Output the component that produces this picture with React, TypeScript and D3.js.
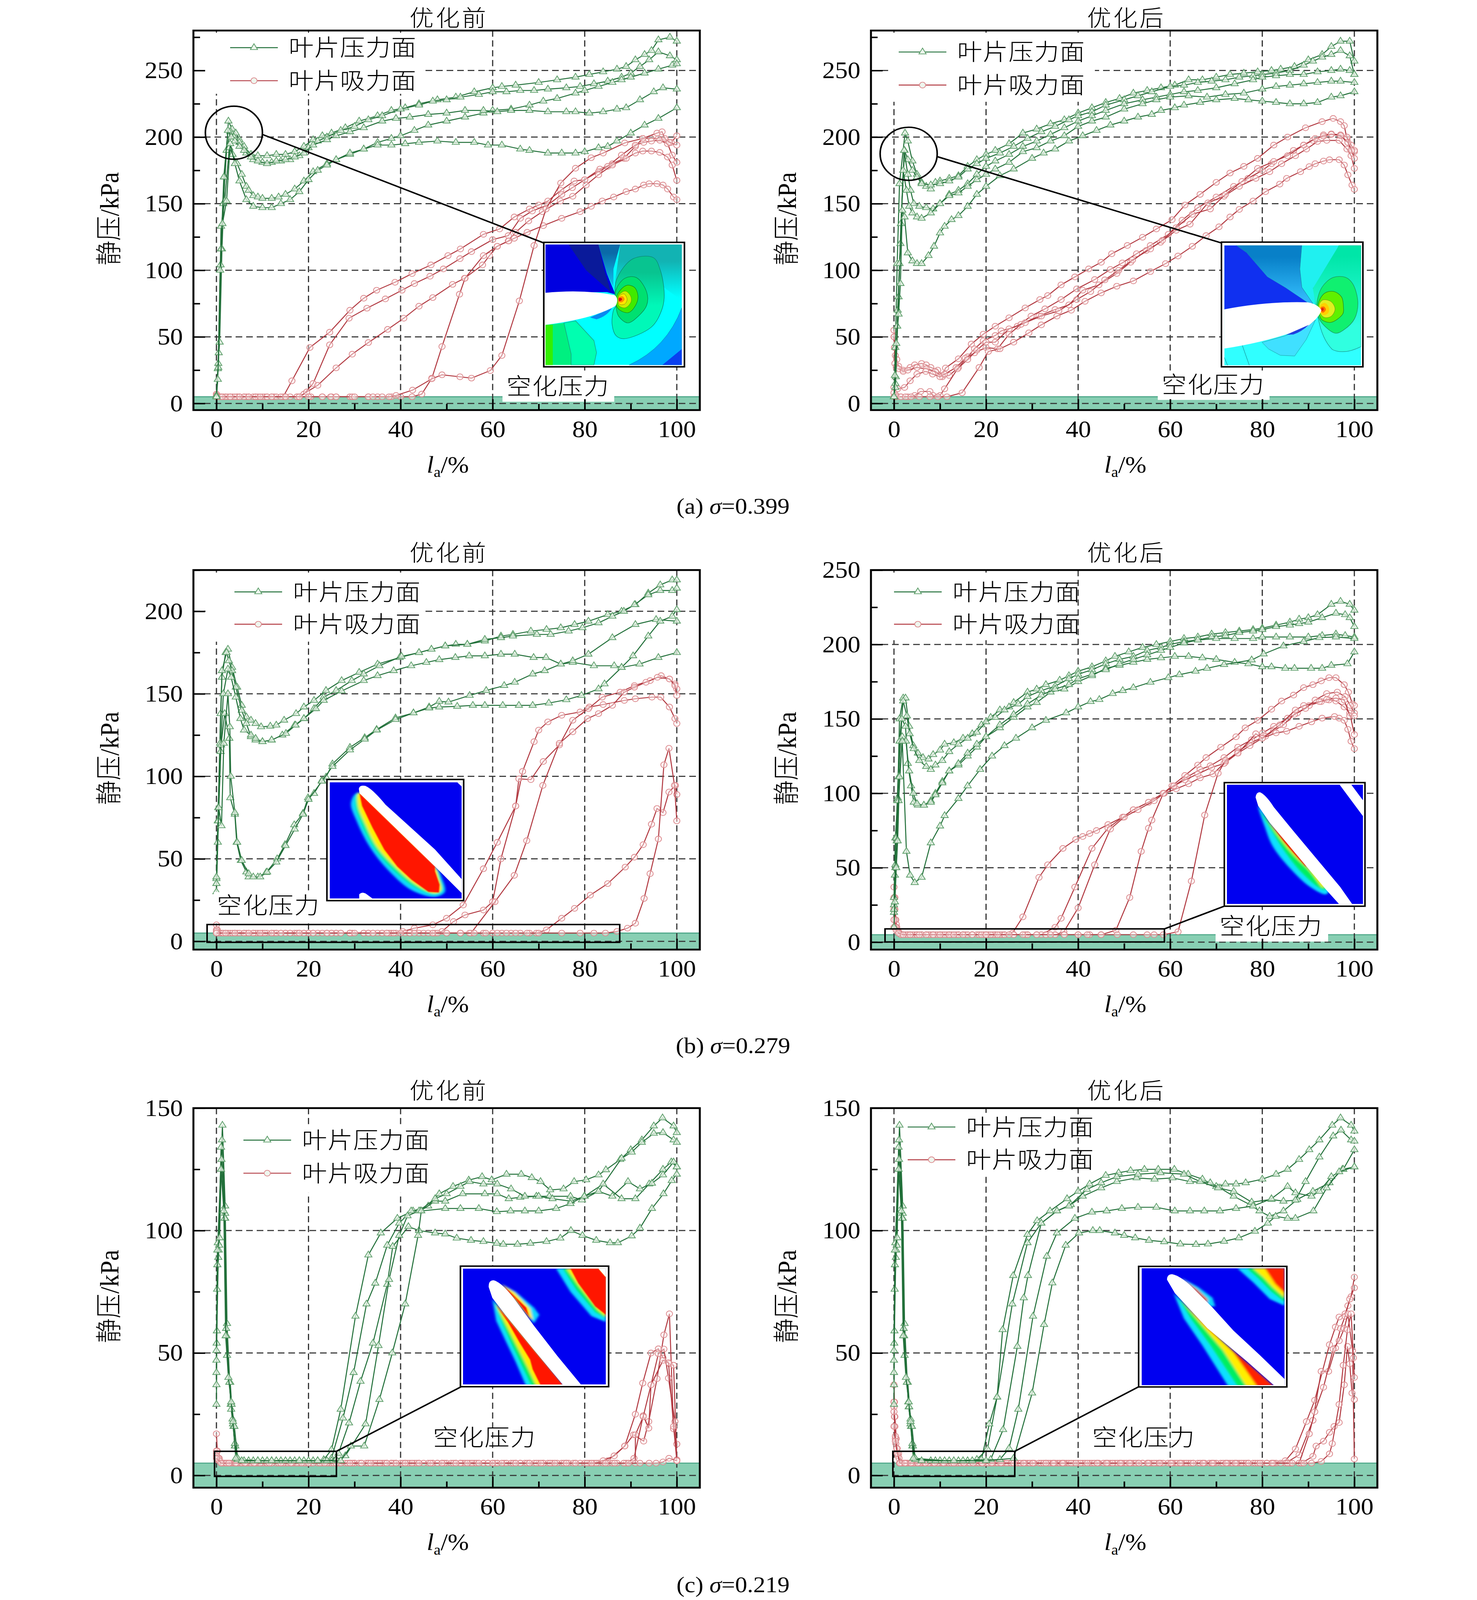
import React, { useEffect, useRef } from 'react';
import * as d3 from 'd3';

type Pt = [number, number];

// suction side points that sit on the cavitation pressure
const at5 = (xs: number[]): Pt[] => xs.map((x) => [x, 5] as Pt);

// ---- (a) sigma=0.399, before
const a1P1: Pt[] = [[0,6],[0.3,26],[0.7,46],[1.2,116],[1.8,170],[2.6,212],[3.4,206],[4.2,203],[5,198],[6,193],[7.5,187],[9,186],[11,186],[13,187],[15,187],[17,189],[19,193],[21,198],[23,201],[25,203],[28,207],[31,212],[35,216],[38,220],[41,222],[44,225],[48,228],[52,230],[56,234],[60,237],[62,238],[65,239],[70,241],[74,243],[78,245],[81,247],[84,249],[87,251],[89,253],[91,258],[93,262],[94.5,265],[96,273],[98.5,275],[100,272]];
const a1P2: Pt[] = [[0,5],[0.4,30],[0.9,104],[1.5,150],[2.2,190],[3,204],[3.8,200],[5,196],[6.5,188],[8,183],[10,181],[12,181],[14,182],[16,183],[18,186],[20,192],[22,197],[24,200],[27,205],[30,208],[33,213],[36,216],[40,221],[44,224],[47,227],[50,228],[53,230],[57,232],[60,234],[63,234],[66,235],[69,235],[72,236],[76,237],[79,238],[82,240],[85,242],[88,245],[90,248],[92,253],[94,258],[96,264],[98.5,261],[100,258]];
const a1P3: Pt[] = [[0,5],[0.5,38],[1,133],[1.8,152],[2.8,192],[3.5,187],[4.5,180],[5.5,172],[6.5,163],[7,160],[8,156],[9,155],[10,154],[12,154],[13.5,155],[15,157],[17,161],[19,167],[21,174],[24,180],[26,183],[29,187],[32,191],[35,196],[38,199],[40,201],[43,205],[46,209],[50,212],[54,215],[58,218],[60,220],[64,221],[68,224],[71,227],[74,229],[78,233],[80,235],[83,238],[86,241],[88,243],[90,245],[93,248],[96,251],[99,254],[100,255]];
const a1P4: Pt[] = [[0,5],[0.4,27],[1,116],[1.6,170],[2.5,205],[3.2,200],[4,197],[5,193],[6,190],[7.5,185],[9,182],[11,180],[13,182],[15,183],[17,185],[19,188],[21,194],[24,198],[26,201],[29,204],[32,207],[36,212],[39,214],[42,215],[46,217],[50,218],[54,220],[58,220],[61,219],[64,220],[68,220],[72,219],[76,219],[78,219],[81,218],[84,219],[87,221],[89,222],[92,228],[95,234],[97,237],[100,236]];
const a1P5: Pt[] = [[0,5],[0.3,18],[0.8,100],[1.3,135],[2.2,152],[3,195],[4,180],[5,167],[6.5,153],[8,148],[10,147],[12,147],[14,150],[16,153],[18,159],[20,168],[22,175],[24,179],[26,183],[29,188],[32,191],[35,194],[38,194],[41,195],[44,196],[48,197],[52,196],[56,196],[59,194],[62,194],[66,191],[68,190],[72,188],[75,188],[78,188],[80,189],[83,192],[85,193],[87,197],[90,203],[93,209],[96,214],[100,222]];
const a1S1: Pt[] = [[0,7],...at5([0.5,2,3.5,5,7,8.5,10.5,12.5,14.5]),[16.4,17],[20.3,42],[24.6,53.5],[29,70],[32,79],[34.8,85],[38.8,91],[42.5,97.5],[46.6,104],[50.3,111],[53,116],[58,127],[61.5,131],[64.7,140],[68,146],[70,149],[72,152],[74.8,160],[77.7,167],[80,168],[83.3,176],[86,180],[88.5,184],[91,193],[92.6,199],[94.4,199],[96,199],[97.6,197.6],[98.8,196],[100,201]];
const a1S2: Pt[] = [[0,6],...at5([1,2.5,4.5,6,8,10,12,15,17.5]),[19,7],[21,15],[24.6,44],[28.8,64],[32.7,71.5],[36.7,78.5],[40.3,85],[43,90],[46.4,95.5],[49.3,101],[52.9,108.7],[55.4,114],[60,123],[63.4,126],[66,139],[68.6,144.5],[72,149],[75,157],[77.3,162],[80,168],[83,174],[85,178],[88,186.5],[91,194],[92.8,196],[94.5,197],[96.3,197.6],[98,195],[99,186.5],[100,181]];
const a1S3: Pt[] = [[0,5],...at5([1.5,3,4.5,6.5,9,11,13,16,18]),[19.6,8.6],[22,13.6],[26,26.7],[29.5,37],[33,45.7],[37.2,55.6],[40.7,64],[44,73],[47,79.5],[51.3,89.4],[53.9,94],[57.8,104],[59.3,111],[61,118],[63.4,122],[65,128.5],[67.8,137],[70.8,144],[74.7,152],[77.4,155.6],[80.3,164],[83,171.7],[86,179],[89,184],[91,188],[92.6,189.5],[94.5,189.5],[96.3,188.5],[98,185],[99,179],[100,167.5]];
const a1S4: Pt[] = [[0,6],...at5([0.8,2,4,6,8.5,11,14,17.5,20.5,23,25,26,29,33,35,38,40,42.5]),[44.6,7],[46.8,19],[49,42.7],[52.8,82],[54,94],[58,111],[61,118],[63.5,122],[64.7,124],[67.5,128.5],[71,133.5],[75,139],[79,144],[81.4,148],[83.8,152],[86.3,155],[89,159],[91,161],[92.8,164],[94,165],[95.7,165],[97,164],[98,161],[99.3,155],[100,153]];
const a1S5: Pt[] = [[0,5],...at5([1.2,3,5,7,9.5,12,15,18,20,23,24.8,26,29.5,30,33,34,36,37.5]),[39,6],[42.6,10],[46.8,18.5],[49,21.5],[52.9,20],[55.4,19],[59.5,24.7],[62,36],[65.8,77],[69,118.6],[71.6,146],[74.8,165.5],[78,176.6],[81.4,184.5],[84,188],[88.7,195.6],[92.6,199],[95.7,203],[96.8,204],[97.4,199],[98.4,196],[100,194]];

// ---- (a) sigma=0.399, after
const a2P1: Pt[] = [[0,5],[0.3,42],[0.7,105],[1.2,165],[2.4,203],[3,197],[4,182],[5,172],[6,166],[7,163],[8,161],[9,166],[10,167],[12,169],[14,171],[16,178],[18,183],[20,187],[22,190],[25,195],[28,203],[31,206],[34,210],[37,213],[40,218],[43,222],[46,226],[49,229],[52,233],[55,235],[58,237],[61,239],[64,243],[67,243],[70,245],[73,247],[76,248],[79,249],[82,250],[84,251],[87,253],[90,258],[93,262],[95,268],[97,272],[99,272],[100,257]];
const a2P2: Pt[] = [[0,5],[0.4,20],[1,80],[1.5,135],[2.3,190],[3,183],[4,175],[5,170],[6,165],[8,164],[10,165],[12,167],[14,170],[16,176],[18,180],[20,184],[23,188],[26,193],[29,199],[32,204],[35,208],[38,213],[40,216],[43,219],[46,224],[50,228],[53,231],[56,234],[60,238],[63,239],[66,241],[69,242],[72,243],[75,245],[78,246],[80,247],[83,248],[86,250],[89,254],[91,257],[93,260],[95,262],[97,265],[99,261],[100,247]];
const a2P3: Pt[] = [[0,5],[0.3,15],[0.8,70],[1.4,120],[2.2,190],[3,172],[3.6,160],[4.3,150],[5.5,148],[7,147],[8.5,146],[10,150],[12,157],[14,160],[16,165],[18,172],[20,178],[22,182],[25,187],[28,193],[31,197],[34,202],[37,207],[40,212],[43,216],[46,220],[50,225],[54,228],[57,230],[60,232],[63,234],[66,235],[70,237],[74,240],[78,243],[80,245],[83,246],[86,247],[89,247],[92,249],[95,250],[97,251],[99,250],[100,247]];
const a2P4: Pt[] = [[0,5],[0.3,12],[0.7,58],[1.2,105],[2,175],[2.7,160],[3.3,148],[4,143],[5,140],[6,139],[8,143],[10,150],[12,156],[14,158],[16,163],[18,168],[20,172],[22,176],[25,181],[28,189],[31,192],[34,197],[37,201],[40,208],[43,212],[46,215],[50,221],[54,225],[57,228],[60,230],[64,231],[68,230],[72,232],[76,233],[80,236],[83,238],[86,239],[89,240],[92,241],[95,242],[97,242],[100,241]];
const a2P5: Pt[] = [[0,5],[0.2,21],[0.5,45],[1,67],[1.4,90],[1.8,145],[2.3,140],[3,113],[4,107],[5,105],[6,105],[7.5,111],[8.7,118],[10,128],[11,133],[12.5,138],[14,141],[16,148],[18,157],[20,163],[23,171],[26,176],[30,184],[32.5,188],[35,191],[38,197],[41,201],[44,205],[47,209],[50,212],[53,215],[56,217],[58,220],[61,222],[63,224],[66.5,226],[70,228],[74,229],[77,228],[80,227],[83,226],[86,225],[89,225],[92,226],[95,230],[97,231],[100,234]];
const a2S1: Pt[] = [[0,55],[0.1,50],[0.2,42],[0.3,36],[0.6,33],[1,28],[2,25],[3.5,27],[4.5,29],[6,30],[7,29],[8,27],[9.5,25],[10.5,21],[11.2,26.6],[14,33.5],[16.8,44.6],[19.4,52],[22,58],[25,64.3],[28.5,71.7],[31.7,78],[33.4,81],[36.3,89],[39.3,95],[42.3,101],[45,106],[47.3,112.4],[50.7,118.6],[54,124.8],[57,131],[60.4,138],[63.2,149],[66.5,157],[70,166],[73,173],[76,178],[79,184],[82.5,194],[85.5,200],[89.4,207],[93,211.6],[95.4,214],[97,211.6],[97.8,208.6],[98.4,198.7],[99.3,191],[100,189]];
const a2S2: Pt[] = [[0,50],[0.1,42],[0.2,30],[0.5,27],[1,26],[2,24],[3,25],[5,27],[7,26],[9,24],[10.5,20],[12,21],[14,27],[16,35],[17.5,41],[19.4,47],[22,51],[23.3,54.5],[26.8,58],[29.8,65.6],[32.8,71],[36.3,78],[39.7,86],[43.6,93],[47,100.6],[49.6,105.5],[52.7,112.4],[55.7,118.6],[59.6,127],[62.6,137.6],[66,147],[70,155],[73.8,163],[76.9,169],[80,175],[82,180],[86.8,190],[89,194],[91,197.5],[93.3,201.7],[95,202.4],[97,201.7],[98.4,200],[99.3,194],[100,190]];
const a2S3: Pt[] = [[0,12],[0.8,11],[2.3,12],[3.5,17],[5,22],[6.9,24],[8.4,22],[10,20],[11,22],[13.5,27],[15.5,34],[17.5,38],[20,42],[22.5,41],[25,52],[27.6,59.4],[31.5,65.6],[35,70.5],[38,74],[41,85],[44.5,89],[48.4,97.6],[51.4,106],[54.8,114.9],[57.9,121],[61.3,130],[64.3,134.6],[68.2,150.6],[71.7,155.6],[75,163],[78.6,169],[81.6,174],[84.2,180],[87.2,186],[89.6,191],[92,196.7],[94,197.5],[96.7,197.5],[98.4,191],[99.3,186],[100,176.5]];
const a2S4: Pt[] = [[0,8],[0.5,6],[1.5,5],[3,5],[4.5,6],[5.8,9],[7.8,9],[8.5,6],[10,6],[11,11],[13.8,26],[16,33],[18,40],[20,46],[22,46],[25,56],[28.5,60.6],[32,65.6],[35.8,69.5],[39.7,78],[42.7,84],[45.8,92.8],[48.8,100],[51.8,107.7],[55.7,116],[58.3,122.5],[61.3,132],[64.8,142],[68.7,146],[72,157],[75.6,166.7],[79,176.5],[82.5,181.7],[85.5,186],[89,194],[91.5,199],[93.3,200.7],[95,202],[97,201],[98.6,196],[99.4,190],[100,184]];
const a2S5: Pt[] = [[0,5],...at5([0.5,1.5,2.5,3.7,5.5,7.8,9.5,11.5]),[14.8,8],[18.5,27],[20.5,39],[23,41],[26,46],[29.3,53],[32,59],[35.4,65.6],[38.5,70],[41.5,76.7],[45,83],[48.4,88],[52,92],[55.7,99],[59,105],[61.7,110.7],[64.8,118],[67.8,126],[70.6,132.6],[73,140],[75,145.7],[78,152],[80.7,159],[83.8,164.7],[85.3,169],[88.3,174],[90.2,177.8],[91.5,180],[93.3,182],[94.6,183],[96.7,183],[97.8,179],[98.6,171.6],[99.5,164],[100,160.8]];

// ---- (b) sigma=0.279, before
const b1P1: Pt[] = [[0,38],[0.4,81],[0.9,138],[1.2,160],[2,175],[2.5,177],[3.4,166],[4.5,154],[5.5,143],[6.5,136],[7.5,134],[8.5,132],[9.7,130],[11.7,130.4],[13,131],[14.7,134],[17.3,138],[19,142],[21.2,146],[23.8,152],[27.2,158],[31,163],[35,168],[39.8,172],[44,175],[46.7,177],[49.7,179],[52,180],[54.5,180],[58.3,182],[61.8,185],[64.4,186],[68.3,188],[71.7,189],[74.8,190],[77.8,192],[80.8,194],[85,198],[88,200],[91,204],[93.8,211],[96.4,216],[99,219],[100,219]];
const b1P2: Pt[] = [[0,35],[0.3,73],[0.8,120],[1.2,164],[2.2,175],[2.7,170],[3.4,164],[4.2,154],[5.5,140],[6.5,132],[7.5,124],[8.5,122],[10,121],[12,122],[14.3,125],[17,131],[19,135],[21.2,141],[23.3,148],[26,152],[29.4,158],[32,162],[35.4,167],[40.2,172.7],[44,175],[46.7,177],[49.7,179],[54.5,180],[58.3,183],[61.8,184],[64.4,185],[69.6,186],[72.6,186],[76.5,188],[79.5,190],[83,193],[86,197],[88.5,200],[90.8,204],[93.8,210],[96.4,212.6],[99,212.6],[100,214]];
const b1P3: Pt[] = [[0,30],[0.3,60],[0.9,115],[1.5,150],[2.5,165],[3.2,160],[4.2,148],[5.2,135],[6,128],[7.5,125],[8.5,123],[10,121],[12,122],[15.1,126],[17.2,131],[19,135],[21.6,141],[23.3,146],[27.2,151.7],[32,158],[35,161],[38.5,164],[42.3,167],[45.6,169],[48.4,170.7],[51.9,172],[54.9,173],[58.3,173],[61.8,174],[64.8,174],[68.9,172],[71.6,172],[74.8,168],[77.4,169],[82,167],[86.4,167],[88,166],[91.9,168],[96,172],[100,175]];
const b1P4: Pt[] = [[0,35],[0.4,73],[1,119],[1.8,138],[2.8,123],[3,87],[4,77],[4.4,60],[5.3,49],[6.5,42],[7,39],[9,39],[10.8,41.7],[13.2,50],[14.9,58.6],[16.9,70.6],[18.8,77.6],[19.9,87],[21.2,89.6],[22.9,97.5],[23.8,99.5],[25.2,107.5],[29,117.5],[32.2,123.4],[34.8,128.4],[38.9,135.4],[42.8,138.4],[46.2,142],[48.4,145.4],[50.4,145],[55,149],[58.6,152],[62.5,155],[64.8,157],[68.7,162],[71.3,164],[74.8,168],[77.4,170],[80.8,174],[86,184],[91,192],[95.5,195],[100,194]];
const b1P5: Pt[] = [[0,39],[0.5,81],[1.1,70],[1.6,120],[2.5,150],[2.9,130],[3.1,100],[4,78],[4.5,60],[5.5,49],[7,41],[8,39],[9.5,39],[11,42],[13,48],[15,58],[17,68],[18.8,77],[20,86],[22.9,97],[25.2,106],[29,116],[32.2,122.5],[34.8,128],[38.9,134.4],[42.8,138.4],[46.2,141.4],[48.4,142],[52.3,142.4],[55.7,143],[58.3,143],[62.2,143],[65.7,143],[68.7,143],[72.2,144.4],[76,146.4],[79.3,149],[83,153],[84.3,156],[88,166],[90.5,173],[93.8,185],[96.4,194],[99,197],[100,201]];
const b1S1: Pt[] = [[0,10],[0.2,7],...at5([0.6,2,4,6,8,10,12,14,16,18,20,22,24,26,29,33,36,38]),[40.5,6],[43,8],[47,10],[50,14],[53.6,22],[58,44],[61,60],[65,82],[66.5,103],[69,121],[70,128],[72,133],[75,137],[79,139],[81,142],[84,143.5],[88.6,146],[91,147],[94.6,148],[96.5,148],[98.4,142],[99.6,135],[100,132]];
const b1S2: Pt[] = [[0,7],...at5([0.8,2.5,4.5,7,9,11,13,15,17,19,21,25,27,29.5,32,35,37.5,41,44,47]),[49,6],[51.5,12],[54,16],[58,19],[60,24],[61.8,50],[65,82],[65.7,98.5],[68.3,98],[71,109],[74.5,119],[77.4,134],[80.8,141],[83.8,148],[87.7,151],[90.8,155],[94.2,158],[96.6,161],[98.4,159],[99.6,156],[100,153]];
const b1S3: Pt[] = [[0,6],...at5([1.2,3,5,6.5,8.5,10,12.5,15,17.5,20,24,26,29,32,34,37,39,42,45,47.5,50,53,55.3]),[60.5,24],[64.7,40],[67.4,61],[70.9,94.5],[74.5,120],[77.4,127],[80.6,135],[83,138],[86,143],[88.6,151],[90.8,154],[93.3,157],[95.8,160],[98.4,159],[99.6,155],[100,149]];
const b1S4: Pt[] = [[0,5],...at5([1.5,3.5,6,8,10.5,13,16,19,23,25,29,33,36,38.5,42,46,48,53,55,58,60,62,64,66,68,69.5]),[71.7,7],[75,14],[77.8,20],[81.2,28],[85,35],[88.8,45],[90.8,51],[92.7,58.6],[94.5,71],[95.7,80.5],[97,78],[98.3,90.5],[99.7,94.5],[100,89]];
const b1S5: Pt[] = [[0,5],...at5([2,4,7,9.5,12,14,18,21,24,27,30,34,37,40,43,47,50,53,56,58.5,61,63,65,67.5,70,75,79,82,84.5]),[87,6],[89.3,8],[91,11],[92.9,26],[94.2,41],[96,62],[97.2,107],[98.3,117],[99.5,94.5],[100,73]];

// ---- (b) sigma=0.279, after
const b2P1: Pt[] = [[0,30],[0.3,70],[0.8,97],[1.2,150],[2,164],[2.5,164],[3.3,145],[4.2,132],[5.2,127],[6.3,124],[7.5,123],[8.5,126],[10,129],[11,133],[13,134],[15,137],[17,140],[19,146],[21,151],[23,156],[25,158],[26,161],[29,168],[31,170],[33,173],[36,176],[38,179],[40,182],[43,185],[46,189],[48,192],[51,195],[54,198],[57,200],[60,202],[63,204],[66,205],[69,207],[72,208],[75,209],[78,210],[80,211],[83,213],[86,215],[88,217],[90,218],[92,220],[95,227],[97,229],[99,227],[100,223]];
const b2P2: Pt[] = [[0,25],[0.3,52],[0.7,95],[1.2,135],[2,162],[2.8,152],[3.4,140],[4.3,130],[5.5,122],[7,118],[8,116],[9,119],[10.5,122],[12,128],[14,133],[16,137],[18,141],[20,148],[22,151],[24,156],[27,160],[29,165],[32,169],[35,172],[38,177],[40,180],[43,183],[46,187],[49,190],[52,192],[55,196],[58,198],[60,200],[63,202],[66,203],[69,205],[72,206],[75,208],[78,209],[80,210],[83,212],[86,213],[88,214],[90,215],[93,218],[96,221],[98,220],[99,218],[100,212]];
const b2P3: Pt[] = [[0,20],[0.2,45],[0.5,70],[1,111],[1.7,150],[2.5,145],[3,120],[3.7,105],[4.3,94],[5.2,92],[6.5,92],[8,95],[9,100],[10.5,108],[12,115],[14,119],[16,125],[18,131],[20,138],[23,144],[26,151],[29,158],[31,161],[34,168],[37,170],[40,175],[43,179],[46,184],[49,186],[52,188],[55,190],[58,191],[61,192],[64,192],[67,191],[70,190],[74,188],[77,187],[80,185],[82,185],[85,184],[87,184],[90.6,184],[93,184],[95,186],[98.5,187],[100,195]];
const b2P4: Pt[] = [[0,22],[0.3,50],[0.6,68],[1,95],[1.8,138],[2.6,135],[3.3,115],[4.2,100],[5,93],[6.5,92],[8,94],[9,99],[10.5,107],[12,115],[14,120],[16,127],[18,133],[20,138],[23,146],[26,153],[29,160],[32,166],[35,170],[38,173],[40,177],[43,180],[46,183],[49,187],[52,190],[55,193],[58,196],[60,198],[63,201],[66,203],[70,204],[74,204],[78,204],[80,205],[83,205],[86,205],[90,205],[93,206],[96,207],[98,206],[100,205]];
const b2P5: Pt[] = [[0,10],[0.2,27],[0.5,50],[0.8,68],[1.2,111],[1.8,135],[2.7,61],[3.5,45],[4.5,40],[6,43.5],[8,66.7],[10,78],[11,85],[14,96.5],[16,105],[18.7,116],[21.3,125],[24,132],[26.5,137],[30,144],[33,149],[37.4,154],[40,158],[42.7,161.6],[44.6,163],[47.5,167],[49.7,169],[52,171],[55.7,174.6],[59.6,177.7],[62,179.7],[65.5,182],[68,184],[71.7,186.5],[77.7,189.6],[80.3,193.6],[84.6,199],[89,202],[92.4,204.6],[96,205],[100,204]];
const b2S1: Pt[] = [[0,37],[0.2,30],[0.4,15],[0.8,8],...at5([1.5,3,4.5,6,8,10,11.5,14,17,19.5,22,24]),[25.7,6],[28,17],[31.5,43.5],[33.4,52],[36.7,63],[39.5,69],[41,71],[42.5,73],[44,75],[46.5,79],[49.7,84],[52,89],[55.3,94],[58.5,100],[60.4,105],[63.2,112],[66,119],[67.8,124],[71,131],[74.3,138],[76.3,144],[79,149],[82,156.5],[84.2,162],[86.8,166],[89,171],[91,173],[92.8,175.5],[94.5,177.7],[96,177.7],[97.8,173],[98.7,168],[99.6,160],[100,159]];
const b2S2: Pt[] = [[0,30],[0.2,22],[0.5,12],[1,7],...at5([2,3.5,5,7,9,12,13.5,15,18,20.5,22,23.5,26,29,32]),[35,10],[36.3,16],[39.3,37],[43,63],[46.5,76.6],[49.7,84],[52,89],[55.3,94],[58.5,100],[60.8,105],[63.7,111],[66.5,116],[68.7,118.5],[71.7,124],[74.7,131],[77.7,136],[80.1,140.6],[82.5,145],[85.5,150.5],[87.6,154],[90.2,159],[92.8,161.6],[94.5,162.7],[96,162],[97.8,158],[99,154],[100,139.5]];
const b2S3: Pt[] = [[0,22],[0.3,15],[0.6,10],[1.2,6],...at5([2.5,4,6,8.5,10.5,12.5,15.5,17,20,21.5,23,26,28.5,31,33,35]),[36.9,7],[40,23],[43.6,52],[47,76],[50,84],[53,89],[56.5,95],[58.7,100],[61.3,103],[64,106.4],[66.5,110.4],[69.3,113],[72,121],[74.7,128],[77.5,134],[80.7,138.4],[82.5,142],[84.6,146],[87,153],[89.4,157],[91.5,162.7],[94,167],[96.3,168],[98,165],[99.1,159],[100,154]];
const b2S4: Pt[] = [[0,15],[0.4,10],[0.8,7],...at5([1.5,3,5,7.5,9.5,11,14,16,18.5,21,24,26,29,33,35,37,40,42.5,45]),[48.2,8],[51.2,30],[53.7,61],[55.3,76.6],[56,82],[58.5,100],[60.8,105],[63.2,109],[66,113],[69,117.4],[71.7,120],[74.7,127],[77.3,132],[80,137],[83,140.6],[85.3,141.7],[88,145],[90.7,148],[93,150.5],[95.7,151.6],[96.7,150.5],[97.8,149],[98.6,143],[99.3,135],[100,130]];
const b2S5: Pt[] = [[0,10],[0.5,8],[1,6],...at5([2,3.5,5.5,7,8.5,10,12,13,15,17,19,20,22.5,25,28,31,34,37,40,42,45,48.5,52,55,56.5,58.5]),[61.7,7],[64.6,41],[67.5,85.4],[70.4,113.5],[72,122],[74.7,127],[78.6,140],[80,137],[83.8,146],[87.2,156],[89,159],[92.4,161.6],[94,163],[96,164],[97.8,162.7],[99,152],[100,152]];

// ---- (c) sigma=0.219, before
const c1P1: Pt[] = [[0,29],[0.05,54],[0.3,95],[1.3,143],[1.9,110],[2.3,62],[3.1,29],[3.6,21],[4,12],[4.5,7],[7,6],[10,6],[14,6],[18,6],[21,6],[23.3,6.4],[25,10.5],[27,27],[30.2,65],[33,90],[35.7,99],[39.3,105],[42.7,108],[46,110],[48.4,115],[51.4,118],[54.8,120.6],[57.7,122],[59.8,120.7],[63,123],[66.2,123],[68.5,121.6],[70.4,120],[72.5,116.6],[75.4,117],[77.7,120],[80.3,120.7],[83,122.7],[84.6,124.8],[87.7,129],[90,133],[92.4,137],[95,142.7],[96.9,146],[99.3,142.7],[100,140]];
const c1P2: Pt[] = [[0,37],[0.1,59],[0.4,89],[1.2,137],[1.9,107],[2.2,57],[3.2,27],[3.7,20],[4.1,12],[4.6,6.5],[8,6],[12,6],[16,6],[20,6],[23.5,6],[25,7],[27.5,23.4],[29.8,42],[32.6,70],[34.5,78.5],[37.1,94],[39.7,103],[42.3,108],[44.3,108],[47.5,112],[49.7,112],[53.5,115],[58.3,115],[61,115],[63.5,113],[66,113.6],[69.5,114],[72.3,114],[76.9,114],[79.4,112.5],[83,116],[88,129.5],[90.2,132],[92.4,136],[95,139.7],[97,140],[99.3,137],[100,136]];
const c1P3: Pt[] = [[0,42],[0.15,76],[0.5,92],[1,134],[1.9,105],[2.3,49],[3,38],[3.5,23],[4,13],[4.7,6.5],[9,6],[13,6],[17,6],[22,6],[25,6],[26.5,9],[28.8,21.4],[31.3,38.4],[34,54],[37.1,78],[38.3,93.5],[41.7,101.6],[44,100],[47.5,99],[49.7,98.6],[52.2,96.9],[55.3,96],[58,95.5],[60.9,94.8],[62.3,94.4],[65.4,94.4],[68.2,94.8],[71.7,95.5],[74.7,96.9],[77,100],[79.5,98],[82.5,96],[85.5,95],[87.2,95],[90.2,97.8],[92,101],[94.6,109],[97.1,115],[98.9,120.4],[100,123]];
const c1P4: Pt[] = [[0,47],[0.2,86],[0.6,94],[1.1,129],[1.8,105],[2.1,60],[2.8,38],[3.3,29],[3.9,20],[4.6,7],[6,6],[11,6],[15,6],[19,6],[24,6],[26,6.5],[28,8],[32.4,21],[35.2,53],[37.5,80],[39.7,98],[41.5,106],[44,108],[47.5,113],[50,115],[53,118],[55,120],[58,119],[61,119],[64,117],[67,114],[70,114],[73,113],[77,112],[80,114],[84,119],[88,113],[91,113],[94,119],[97,125],[98.8,128],[100,126]];
const c1P5: Pt[] = [[0,51],[0.2,92],[0.7,97],[1,125],[1.6,108],[2,57],[2.6,40],[3.2,30],[3.6,22],[4.2,7],[5.5,6],[9,6],[12,6],[18,6],[22,6],[27,6],[29.2,12],[32.1,12],[35.4,31],[38.2,50],[41,70],[43.8,98],[44.5,108],[49.7,109],[53,109],[57,109],[60.9,107.7],[63.9,108],[67,108],[70,108],[73.8,109],[76.9,111],[79.9,114],[83,116],[86,114],[89.4,120],[92,117],[94.6,119.3],[97,122.7],[99.3,128],[100,126]];
const c1S1: Pt[] = [[0,17],[0.2,10],[0.6,7],...at5([1.7,3.5,5,7,9,10.7,13,15,17,19.5,22,24.5,26.5,29,30,32.5,34,36,38,40,42,44,47,49,52,53.5,56,58,60,62.5,65,67,70,72,75,78,81,83]),[85,6],[88.7,12],[90.6,16.6],[92.8,14],[93.9,22],[95.7,39.5],[97.2,57.4],[98.4,66],[99.3,19],[100,12.8]];
const c1S2: Pt[] = [[0,10],[0.4,7],...at5([1.2,2.5,4,6,8,10,12,14,16,18,20.5,23,25,28,30,33,35,37,39,41,43,46,48,50,53,55,58,61,63,66,68,71,73,76,79,82]),[84,6],[86.4,8],[88.7,12],[91,25],[92.6,37.7],[94.4,50],[96,51.7],[97,48],[98.4,45.6],[99.3,45],[100,6.4]];
const c1S3: Pt[] = [[0,9],[0.5,6],...at5([2,3,5.5,7.5,9.5,11,13.5,15.5,17.5,21,24,27,29.5,31,34.5,36.5,38.5,41.5,43.5,47,49.5,51,54,55.5,59,60.5,64,66,69,71,74,76.5,80,82.5,85,87,89]),[90.7,7],[92.7,24.4],[93.9,19.3],[94.4,37],[96,49.7],[97.2,51.6],[98.2,39.7],[99.6,22],[100,6]];
const c1S4: Pt[] = [[0,8],[0.7,6],...at5([1.5,2.2,4.5,6.5,8.5,12,14.5,16.5,19,22.5,25.5,28.5,31.5,33,35.5,38,40.5,42.5,45,48,51.5,53,56.5,59,61,64.5,67.5,69.5,72.5,75.5,77.5,80.5,84,86,88.5,91]),[91,16.6],[92.7,24],[94.4,37],[97,47],[98.2,46],[99.3,20],[100,6]];
const c1S5: Pt[] = [[0,7],...at5([1,2.7,4.2,6.2,8.2,11.5,14,16.2,18.5,20,23.5,26,29,31.5,33.5,37,39,41,44,46.5,49,52,54.5,57,60,62,65,68,70.5,73.5,76,78,81.5,84.5,86.5,89.5,92,94,95.5]),[97,5.5],[98.3,7],[100,6]];

// ---- (c) sigma=0.219, after
const c2P1: Pt[] = [[0,29],[0.05,54],[0.3,95],[1.2,143],[1.9,110],[2.3,62],[3.1,30],[3.6,21],[4,12],[4.5,7],[8,6],[12,6],[16,6],[18,6.5],[20.3,10.8],[22.4,32],[23.6,59.5],[25.9,81.6],[29,98.4],[31.1,104],[33.9,108],[37.6,113],[40,116],[42.5,119],[46,122.5],[48.8,123.6],[51.4,124.5],[54.4,125],[57.4,125],[60.9,125],[63.9,123],[67,121],[70,118],[72,119],[74.3,119],[76.4,119.5],[80,121],[83,123],[85.5,125],[88,129],[90.2,133],[92.4,137],[95.2,143],[97,146],[99.3,143],[100,140.6]];
const c2P2: Pt[] = [[0,37],[0.1,59],[0.4,89],[1.1,137],[1.9,107],[2.2,57],[3.2,28],[3.7,20],[4.1,12],[4.6,6.5],[10,6],[14,6],[19,6.5],[20.7,21],[22.4,32],[25.7,70],[29,95],[32,103],[35.4,108],[38.4,110.6],[41,114],[45,117.4],[48.4,120],[52.7,121.5],[56.6,121],[60.5,121.5],[64.3,120],[68.7,119.5],[70.8,117.4],[73.8,114],[77.3,110.6],[79.4,108],[81.6,105.8],[84.6,108],[87.6,112.7],[91,116],[94.6,119.5],[97.4,125],[100,126]];
const c2P3: Pt[] = [[0,42],[0.15,76],[0.5,92],[1,134],[1.9,105],[2.3,49],[3,38],[3.6,23],[4,13],[4.7,6.5],[9,6],[15,6],[21,6.5],[23.7,18.7],[26.8,52.7],[28.2,72.5],[29.1,81.6],[32,103],[35.4,108],[38,110],[41.9,116.8],[45,119.5],[48.4,122],[53,123],[57.9,123.6],[63,123],[66.5,120],[70.4,117.4],[73.8,116],[77.7,111.6],[82,112.7],[84.6,112],[87.2,112.4],[89.4,120],[92.4,130],[95.4,138.6],[97.1,141],[99.3,137],[100,136.5]];
const c2P4: Pt[] = [[0,47],[0.2,86],[0.6,94],[1.1,129],[1.8,105],[2.1,60],[2.8,38],[3.3,28],[3.9,20],[4.6,7],[11,6],[17,6],[23,6.5],[25,11],[27,27],[30.2,65],[33.2,89.5],[35.4,99],[39.3,105],[43,107.5],[46.2,108],[49.5,109],[53,109.5],[57,109.5],[61,108],[64.3,108],[67.4,108],[70.8,108],[74.3,109],[78,110],[82,113],[85.5,118],[87.2,115.4],[90.7,114],[92.4,116],[95,122],[97.6,125],[100,133]];
const c2P5: Pt[] = [[0,51],[0.2,92],[0.7,97],[1,125],[1.6,108],[2,57],[2.6,40],[3.2,30],[3.6,22],[4.2,7],[6,6],[13,6],[20,6],[26,7],[30,33.6],[32.6,61.6],[34.4,78.6],[37.3,94],[40.2,99],[43.2,100],[44.7,100],[48,99],[50,98],[52.4,97],[55.4,96],[58.7,95.4],[62.2,94.5],[65.6,94.3],[68.2,94.5],[71.7,95.6],[74.9,97],[78.4,99.7],[81.2,103],[82.9,105.8],[85.5,105],[87.2,105],[91.1,108],[94,117.4],[96.7,124],[100,126]];
const c2S1: Pt[] = [[0,37],[0.1,30],[0.2,24],[0.5,15],[1,9],...at5([1.8,3,4.5,6,8,10,11.5,13,15,17.5,19.5,21,23,25,27,29,31.5,33,35.5,37.5,40,42.5,44.5,47,49,51,53,55,57.5,60,62,64,66,68.5,71,73,75,77,80,82]),[85,6],[87.2,10.8],[89.6,22],[91.4,30.7],[94.6,53.4],[95.9,60.6],[96.7,64.7],[98,66],[98.6,69.3],[99.3,73],[100,81]];
const c2S2: Pt[] = [[0,30],[0.1,24],[0.3,15],[0.7,11],...at5([1.5,2.5,4,5.5,7,9,11,13.5,15.5,18,20,22,24,26,28,30,32,34,36,38,41,43,46,48,50,52,54,56,58,61,63,65,67,70,72,74,76,78,81,83,85]),[88,8.4],[91,22.5],[92.8,42.5],[94.4,42.5],[95.9,52],[97,60],[98,65],[99,72],[100,76.6]];
const c2S3: Pt[] = [[0,28],[0.2,20],[0.4,13],[0.9,8],...at5([1.2,2.2,3.5,5,6.5,8.5,10.5,12,14,16,18.5,20.5,22.5,24.5,26.5,28.5,30.5,33.5,35,37,39,41.5,44,45.5,48.5,50.5,52.5,55.5,57,59.5,61.5,63.5,66.5,69,71.5,73.5,75.5,78.5,81,84,86,88]),[90.2,17],[91.4,26],[93.3,36],[95.4,51.6],[96.7,55],[97.8,60],[98.6,66],[99.6,51],[100,6.7]];
const c2S4: Pt[] = [[0,26],[0.3,16],[0.6,11],[1.1,7],...at5([1.7,2.7,4.2,5.7,7.5,9.5,12.5,14.5,16.5,19,21.5,23.5,25.5,27.5,29.5,32.5,34.5,36.5,38.5,40.5,43.5,46.5,47.5,49.5,51.5,54,56.5,58.5,60.5,62.5,64.5,67.5,69.5,72.5,74.5,76.5,79,82.5,85.5,88.5]),[91,7.8],[91.7,12],[93.3,14],[94.6,17.6],[95.6,20],[96.7,21.6],[97.8,37],[98.5,52.7],[99,45.6],[99.5,33.6],[100,31]];
const c2S5: Pt[] = [[0,20],[0.3,14],[0.7,9],...at5([1.3,2.4,3.7,5.2,6.8,8.8,10.8,13,15.2,17.2,19.2,21.2,23.2,26,28.2,30.2,33,34.7,36.7,39.5,42,44.2,46.2,49.2,51.2,53.2,55.2,57.7,60.2,62.2,65,67.2,69.2,72.2,74.2,77,79.5,82.2,86.5,89,90.7]),[92.8,5.7],[94.6,8.8],[95.2,13],[96.7,29],[97.6,45],[98.5,59.5],[99.3,66],[99.8,48],[100,40]];

const xTicks = [0, 20, 40, 60, 80, 100];
const xMinor = [10, 30, 50, 70, 90];
const seriesNames = ['叶片压力面', '叶片吸力面'];
const capLabel = '空化压力';
const rowCaptions = ['(a) ', '(b) ', '(c) '];
const rowSigmas = ['=0.399', '=0.279', '=0.219'];

const GREEN = '#22703a';
const RED = '#b23a42';
const SERIF = '"Liberation Serif", serif';
const CJK = '"Noto Sans CJK SC", sans-serif';

interface PanelCfg {
  title: string;
  col: number;
  top: number;
  bottom: number;
  yMax: number;
  yTicks: number[];
  yMinor: number[];
  pressure: Pt[][];
  suction: Pt[][];
  legend: { x: number; y1: number; y2: number; box: number[] };
  cap: { x: number; y: number; box?: number[] };
}

const colLeft = [495, 2229];
const colWidth = 1296;

const panels: PanelCfg[] = [
  { title: '优化前', col: 0, top: 84, bottom: 1128, yMax: 280, yTicks: [0, 50, 100, 150, 200, 250], yMinor: [25, 75, 125, 175, 225, 275],
    pressure: [a1P1, a1P2, a1P3, a1P4, a1P5], suction: [a1S1, a1S2, a1S3, a1S4, a1S5],
    legend: { x: 589, y1: 131, y2: 222, box: [516, 90, 566, 168] }, cap: { x: 1296, y: 1062, box: [1286, 1025, 286, 80] } },
  { title: '优化后', col: 1, top: 84, bottom: 1128, yMax: 280, yTicks: [0, 50, 100, 150, 200, 250], yMinor: [25, 75, 125, 175, 225, 275],
    pressure: [a2P1, a2P2, a2P3, a2P4, a2P5], suction: [a2S1, a2S2, a2S3, a2S4, a2S5],
    legend: { x: 2300, y1: 143, y2: 234, box: [2276, 90, 526, 190] }, cap: { x: 2973, y: 1058, box: [2963, 1024, 286, 76] } },
  { title: '优化前', col: 0, top: 1568, bottom: 2612, yMax: 225, yTicks: [0, 50, 100, 150, 200], yMinor: [25, 75, 125, 175, 225],
    pressure: [b1P1, b1P2, b1P3, b1P4, b1P5], suction: [b1S1, b1S2, b1S3, b1S4, b1S5],
    legend: { x: 600, y1: 1628, y2: 1717, box: [526, 1575, 561, 190] }, cap: { x: 555, y: 2490, box: [547, 2454, 285, 77] } },
  { title: '优化后', col: 1, top: 1568, bottom: 2612, yMax: 250, yTicks: [0, 50, 100, 150, 200, 250], yMinor: [25, 75, 125, 175, 225],
    pressure: [b2P1, b2P2, b2P3, b2P4, b2P5], suction: [b2S1, b2S2, b2S3, b2S4, b2S5],
    legend: { x: 2288, y1: 1628, y2: 1717, box: [2262, 1575, 492, 186] }, cap: { x: 3121, y: 2547, box: [3111, 2512, 288, 78] } },
  { title: '优化前', col: 0, top: 3048, bottom: 4092, yMax: 150, yTicks: [0, 50, 100, 150], yMinor: [25, 75, 125],
    pressure: [c1P1, c1P2, c1P3, c1P4, c1P5], suction: [c1S1, c1S2, c1S3, c1S4, c1S5],
    legend: { x: 623, y1: 3136, y2: 3227, box: [600, 3098, 508, 183] }, cap: { x: 1108, y: 3954 } },
  { title: '优化后', col: 1, top: 3048, bottom: 4092, yMax: 150, yTicks: [0, 50, 100, 150], yMinor: [25, 75, 125],
    pressure: [c2P1, c2P2, c2P3, c2P4, c2P5], suction: [c2S1, c2S2, c2S3, c2S4, c2S5],
    legend: { x: 2323, y1: 3100, y2: 3190, box: [2317, 3061, 434, 174] }, cap: { x: 2795, y: 3954 } },
];

function drawPanel(svg: d3.Selection<SVGSVGElement, unknown, null, undefined>, cfg: PanelCfg) {
  const left = colLeft[cfg.col];
  const x = d3.scaleLinear().domain([-5, 105]).range([left, left + colWidth]);
  const y = d3.scaleLinear().domain([-5, cfg.yMax]).range([cfg.bottom, cfg.top]);
  const g = svg.append('g');
  const right = left + colWidth;

  // cavitation pressure band
  g.append('rect').attr('x', left).attr('y', y(5)).attr('width', colWidth).attr('height', cfg.bottom - y(5)).attr('fill', '#88cfb3');
  g.append('line').attr('x1', left).attr('x2', right).attr('y1', y(5)).attr('y2', y(5)).attr('stroke', '#4fa98a').attr('stroke-width', 3);

  // grid
  const dash = '17 10';
  xTicks.forEach((t) => {
    g.append('line').attr('x1', x(t)).attr('x2', x(t)).attr('y1', cfg.top).attr('y2', cfg.bottom)
      .attr('stroke', '#333').attr('stroke-width', 3).attr('stroke-dasharray', dash);
  });
  cfg.yTicks.forEach((t) => {
    g.append('line').attr('x1', left).attr('x2', right).attr('y1', y(t)).attr('y2', y(t))
      .attr('stroke', '#333').attr('stroke-width', 3).attr('stroke-dasharray', dash);
  });

  // legend sits on a white patch that hides the grid
  const b = cfg.legend.box;
  g.append('rect').attr('x', b[0]).attr('y', b[1]).attr('width', b[2]).attr('height', b[3]).attr('fill', '#fff');

  const line = d3.line<Pt>().x((d) => x(d[0])).y((d) => y(d[1]));
  const tri = d3.symbol().type(d3.symbolTriangle).size(150)() as string;
  const circ = d3.symbol().type(d3.symbolCircle).size(200)() as string;

  const drawSeries = (data: Pt[][], color: string, symbol: string, mStroke: string, mFill: string) => {
    data.forEach((pts) => {
      g.append('path').attr('d', line(pts)).attr('fill', 'none').attr('stroke', color).attr('stroke-width', 2.6);
      g.append('g').selectAll('path').data(pts).enter().append('path')
        .attr('d', symbol)
        .attr('transform', (d) => `translate(${x(d[0])},${y(d[1])})`)
        .attr('fill', mFill).attr('stroke', mStroke).attr('stroke-width', 2);
    });
  };
  drawSeries(cfg.suction, RED, circ, '#dc8a8e', 'rgba(255,245,245,0.45)');
  drawSeries(cfg.pressure, GREEN, tri, '#5f9f6c', 'rgba(226,240,226,0.8)');

  // legend
  const legendRows: [number, string, string, string, string][] = [
    [cfg.legend.y1, seriesNames[0], GREEN, tri, '#5f9f6c'],
    [cfg.legend.y2, seriesNames[1], RED, circ, '#dc8a8e'],
  ];
  legendRows.forEach(([ly, name, color, symbol, mStroke]) => {
    g.append('line').attr('x1', cfg.legend.x).attr('x2', cfg.legend.x + 122).attr('y1', ly).attr('y2', ly).attr('stroke', color).attr('stroke-width', 2.6);
    g.append('path').attr('d', symbol).attr('transform', `translate(${cfg.legend.x + 61},${ly})`).attr('fill', '#eef6ee').attr('stroke', mStroke).attr('stroke-width', 2);
    g.append('text').attr('x', cfg.legend.x + 150).attr('y', ly + 23).attr('font-family', CJK).attr('font-weight', 300).attr('font-size', 64).attr('textLength', 326).text(name);
  });

  // cavitation label
  if (cfg.cap.box) {
    const c = cfg.cap.box;
    g.append('rect').attr('x', c[0]).attr('y', c[1]).attr('width', c[2]).attr('height', c[3]).attr('fill', '#fff');
  }
  g.append('text').attr('x', cfg.cap.x).attr('y', cfg.cap.y + 23).attr('font-family', CJK).attr('font-weight', 300).attr('font-size', 64).attr('textLength', 262).text(capLabel);

  // frame and axes
  g.append('rect').attr('x', left).attr('y', cfg.top).attr('width', colWidth).attr('height', cfg.bottom - cfg.top).attr('fill', 'none').attr('stroke', '#000').attr('stroke-width', 5);

  const styleAxis = (a: d3.Selection<SVGGElement, unknown, null, undefined>) => {
    a.select('.domain').remove();
    a.selectAll('line').attr('stroke', '#000').attr('stroke-width', 4);
    a.selectAll('text').attr('font-family', SERIF).attr('font-size', 65).attr('fill', '#000');
  };
  svg.append('g').attr('transform', `translate(0,${cfg.bottom})`)
    .call(d3.axisBottom(x).tickValues(xTicks).tickSize(-30).tickPadding(28).tickFormat((d) => String(d)) as any)
    .call(styleAxis as any);
  svg.append('g').attr('transform', `translate(0,${cfg.bottom})`)
    .call(d3.axisBottom(x).tickValues(xMinor).tickSize(-17).tickFormat(() => '') as any)
    .call(styleAxis as any);
  svg.append('g').attr('transform', `translate(${left},0)`)
    .call(d3.axisLeft(y).tickValues(cfg.yTicks).tickSize(-30).tickPadding(27).tickFormat((d) => String(d)) as any)
    .call(styleAxis as any);
  svg.append('g').attr('transform', `translate(${left},0)`)
    .call(d3.axisLeft(y).tickValues(cfg.yMinor).tickSize(-17).tickFormat(() => '') as any)
    .call(styleAxis as any);

  // titles, the first row keeps its whole text box inside the page
  const cx = left + colWidth / 2 + 3;
  g.append('text').attr('x', cx).attr('y', Math.max(72, cfg.top - 25)).attr('text-anchor', 'middle').attr('font-family', CJK).attr('font-weight', 300).attr('font-size', 62).attr('textLength', 196).text(cfg.title);

  const ylab = svg.append('text').attr('transform', `translate(${left - 214},${(cfg.top + cfg.bottom) / 2 - 4}) rotate(-90)`)
    .attr('text-anchor', 'middle').attr('font-size', 68).attr('dy', 22);
  ylab.append('tspan').attr('font-family', CJK).attr('font-weight', 300).text('静压');
  ylab.append('tspan').attr('font-family', SERIF).text('/kPa');

  const xlab = svg.append('text').attr('x', cx).attr('y', cfg.bottom + 172).attr('text-anchor', 'middle').attr('font-family', SERIF).attr('font-size', 65);
  xlab.append('tspan').attr('font-style', 'italic').text('l');
  xlab.append('tspan').attr('font-size', 40).attr('dy', 12).text('a');
  xlab.append('tspan').attr('dy', -12).text('/%');
}

// ---- contour / cloud pictures pasted into the panels, drawn in local picture coordinates
const path = (pts: number[][], curved = true) =>
  (curved ? d3.line().curve(d3.curveCatmullRomClosed.alpha(0.5)) : d3.line().curve(d3.curveLinearClosed))(pts as any) as string;

function Frame(p: { x: number; y: number; w: number; h: number }) {
  return <rect x={p.x} y={p.y} width={p.w} height={p.h} fill="none" stroke="#000" strokeWidth={12} />;
}

function ContourA1() {
  const c = 'ca1';
  return (
    <g transform="translate(1340,640) scale(0.3333)">
      <clipPath id={c}><rect x={168} y={97} width={1047} height={995} /></clipPath>
      <rect x={155} y={82} width={1080} height={1025} fill="#fff" />
      <g clipPath={`url(#${c})`}>
        <rect x={168} y={97} width={1047} height={995} fill="#00ffff" />
        <path d="M742,97H1215V560L1100,470L900,300L700,420Z" fill="url(#tealA)" />
        <path d={path([[168,97],[575,97],[640,340],[705,510],[640,490],[168,497]], false)} fill="#0000e0" />
        <path d={path([[345,97],[575,97],[620,310],[670,490],[480,310]], false)} fill="#0a1a9a" />
        <path d={path([[575,97],[742,97],[690,300],[690,450],[640,340]], false)} fill="url(#blueA)" />
        <path d={path([[700,500],[720,370],[840,215],[995,205],[1050,310],[1080,520],[1060,640],[980,780],[770,875],[710,850],[680,760],[690,640],[710,600]])} fill="url(#greenA)" stroke="#0b8a78" strokeWidth={4} />
        <path d={path([[710,470],[780,375],[865,370],[945,490],[945,600],[880,690],[800,745],[730,690],[710,610]])} fill="#00e070" stroke="#0a8a50" strokeWidth={4} />
        <path d={path([[720,510],[790,435],[850,450],[878,520],[860,600],[805,660],[740,640],[712,600]])} fill="#40ea00" stroke="#1a8a20" strokeWidth={4} />
        <path d={path([[730,520],[780,482],[820,520],[825,570],[780,620],[730,600]])} fill="#c8f000" stroke="#6a8a10" strokeWidth={3} />
        <path d={path([[730,530],[770,505],[795,550],[775,590],[735,590]])} fill="#ffe800" stroke="#8a8010" strokeWidth={3} />
        <path d={path([[730,535],[760,525],[775,550],[755,575],[730,570]])} fill="#ff9000" />
        <path d={path([[732,540],[752,540],[755,555],[735,565]])} fill="#d81010" />
        <path d={path([[168,762],[310,745],[365,1000],[365,1092],[168,1092]], false)} fill="#00f080" />
        <rect x={168} y={760} width={56} height={335} fill="#33f000" />
        <path d={path([[310,745],[400,728],[540,890],[560,990],[540,1092],[365,1092],[365,1000]], false)} fill="#00ffb0" stroke="#1a9a80" strokeWidth={4} />
        <path d="M810,1092Q1100,950 1215,620V1092Z" fill="#00a8ff" stroke="#0a7ab0" strokeWidth={3} />
        <path d="M1065,1092L1215,960V1092Z" fill="#0a40f0" />
        <path d="M510,700L680,620Q640,690 560,715Z" fill="#0a88f0" />
        <path d="M160,497Q450,465 700,515Q735,550 705,605Q540,710 160,762Z" fill="#fff" />
      </g>
      <Frame x={155} y={80} w={1080} h={1027} />
    </g>
  );
}

function ContourA2() {
  const c = 'ca2';
  return (
    <g transform="translate(3090,640) scale(0.3333)">
      <clipPath id={c}><rect x={130} y={105} width={1050} height={990} /></clipPath>
      <rect x={110} y={80} width={1082} height={1025} fill="#fff" />
      <g clipPath={`url(#${c})`}>
        <rect x={130} y={105} width={1050} height={990} fill="#30ffff" />
        <path d="M1010,105H1180V940Q1050,1010 960,965Q880,880 850,700L830,590L805,470Q860,310 1010,105Z" fill="url(#greenB)" stroke="#1a9a90" strokeWidth={4} />
        <path d={path([[725,105],[1010,105],[810,460],[830,590],[810,585],[725,450],[710,300]], false)} fill="#20f0f0" />
        <path d={path([[220,105],[725,105],[710,300],[725,450],[810,585],[770,578],[600,455],[460,365],[300,165]], false)} fill="url(#blueB)" stroke="#1a7aa0" strokeWidth={3} />
        <path d={path([[130,105],[220,105],[300,165],[460,365],[600,455],[770,578],[600,575],[130,635]], false)} fill="#1030f0" />
        <path d={path([[840,590],[880,450],[965,370],[1060,368],[1115,420],[1155,570],[1130,710],[1050,800],[985,830],[900,770],[850,690]])} fill="#10f070" stroke="#1a9a60" strokeWidth={4} />
        <path d={path([[850,590],[900,500],[970,485],[1030,530],[1045,620],[1040,670],[950,740],[880,720],[860,680]])} fill="#60f000" stroke="#2a8a20" strokeWidth={4} />
        <path d={path([[860,590],[890,555],[950,570],[980,630],[950,690],[900,700],[870,670]])} fill="#e0f020" stroke="#7a8a10" strokeWidth={3} />
        <path d={path([[868,600],[900,580],[930,610],[930,660],[895,680],[870,660]])} fill="#ffd000" />
        <path d={path([[872,615],[895,610],[910,635],[890,660],[872,650]])} fill="#ff7000" />
        <path d={path([[876,625],[890,622],[892,640],[878,645]])} fill="#e02010" />
        <path d={path([[420,905],[600,850],[770,770],[830,720],[760,880],[670,1018],[560,1012],[470,960]], false)} fill="#40e0ff" stroke="#1a9aa0" strokeWidth={3} />
        <path d="M268,930L322,1095M130,1030L155,1095" stroke="#1a9aa0" strokeWidth={4} fill="none" />
        <path d="M120,635Q450,565 770,575Q850,590 875,640Q860,700 760,780Q480,900 120,958Z" fill="#fff" />
        <path d="M605,843L780,760Q720,820 660,840Z" fill="#2040e0" />
      </g>
      <Frame x={108} y={78} w={1086} h={1029} />
    </g>
  );
}

function CloudB1() {
  const c = 'cb1';
  return (
    <g transform="translate(820,2120) scale(0.3333)">
      <clipPath id={c}><rect x={72} y={95} width={1013} height={960} /></clipPath>
      <rect x={50} y={72} width={1050} height={1000} fill="#fff" />
      <g clipPath={`url(#${c})`}>
        <rect x={72} y={95} width={1013} height={960} fill="#0000f0" />
        <g filter="url(#blurHeat)">
          <path d={path([[290,180],[235,265],[280,420],[380,630],[520,820],[700,985],[880,1040],[955,1000],[930,880],[890,800]])} fill="#10d8ff" />
          <path d={path([[292,180],[268,280],[315,440],[400,620],[530,790],[720,960],[880,1020],[935,990],[915,880],[885,800]])} fill="#00f090" />
          <path d={path([[295,185],[290,290],[345,440],[430,620],[560,780],[740,945],[880,1010],[925,985],[905,880],[880,800]])} fill="#ffee00" />
        </g>
        <path d={path([[300,185],[320,290],[400,470],[490,650],[590,790],[700,900],[830,1000],[910,1005],[915,940],[880,830],[880,790]], false)} fill="#ff1500" filter="url(#blurThin)" />
        <path d="M295,150Q300,115 345,125Q400,150 500,280L880,650L1085,895V1010L880,790L300,185Z" fill="#fff" />
        <path d="M1050,95L1085,130V95Z" fill="#fff" />
        <path d="M298,1055V1020Q320,995 350,1015L400,1055Z" fill="#fff" />
      </g>
      <Frame x={50} y={72} w={1050} h={1000} />
    </g>
  );
}

function CloudB2() {
  const c = 'cb2';
  return (
    <g transform="translate(3100,2130) scale(0.3333)">
      <clipPath id={c}><rect x={120} y={85} width={1045} height={985} /></clipPath>
      <rect x={100} y={68} width={1080} height={1020} fill="#fff" />
      <g clipPath={`url(#${c})`}>
        <rect x={120} y={85} width={1045} height={985} fill="#0000f0" />
        <g filter="url(#blurHeat)">
          <path d={path([[360,260],[410,430],[470,590],[600,770],[760,930],[880,990],[900,960],[720,740],[450,400]])} fill="#10e0ff" />
          <path d={path([[380,310],[470,480],[570,650],[700,820],[850,950],[885,945],[720,740],[450,400]])} fill="#00ee60" />
          <path d={path([[410,340],[510,500],[620,650],[760,800],[860,935],[865,900],[720,740],[450,400]])} fill="#ffe800" />
        </g>
        <path d={path([[460,400],[700,690],[730,760],[650,670],[540,530]])} fill="#ee2000" filter="url(#blurThin)" />
        <path d="M340,190Q345,145 375,148Q420,170 480,270L640,480L990,930L1085,1075H985L880,950L450,400L360,260Z" fill="#fff" />
        <path d="M985,85H1075L1165,215V345Z" fill="#fff" />
      </g>
      <rect x={100} y={68} width={1080} height={1020} fill="none" stroke="#000" strokeWidth={12} />
    </g>
  );
}

function CloudC1() {
  const c = 'cc1';
  return (
    <g transform="translate(1160,3460) scale(0.3333)">
      <clipPath id={c}><rect x={75} y={88} width={1097} height={957} /></clipPath>
      <rect x={55} y={68} width={1138} height={995} fill="#fff" />
      <g clipPath={`url(#${c})`}>
        <rect x={75} y={88} width={1097} height={957} fill="#0000f0" />
        <g filter="url(#blurHeat)">
          <path d={path([[300,340],[330,520],[400,680],[480,860],[560,1060],[840,1060],[620,760],[400,470]], false)} fill="#10e0ff" />
          <path d={path([[315,360],[375,540],[450,720],[530,900],[600,1060],[840,1060],[620,760],[400,470]], false)} fill="#00ee60" />
          <path d={path([[325,380],[400,540],[490,730],[570,900],[640,1060],[840,1060],[620,760],[400,470]], false)} fill="#ffee00" />
          <path d={path([[370,215],[480,280],[620,410],[660,470],[620,540],[470,340]], false)} fill="#10d8ff" />
          <path d={path([[370,215],[470,285],[590,420],[610,510],[590,500],[470,340]], false)} fill="#ffe800" />
          <path d={path([[790,88],[1172,88],[1172,530],[1060,480],[900,280]], false)} fill="#10e0ff" />
          <path d={path([[840,88],[1172,88],[1172,500],[1090,450],[940,260]], false)} fill="#00ee60" />
          <path d={path([[870,88],[1172,88],[1172,485],[1110,430],[970,240]], false)} fill="#ffee00" />
        </g>
        <path d={path([[330,390],[420,530],[510,700],[590,840],[610,920],[670,1050],[840,1050]], false)} fill="#ff1500" filter="url(#blurThin)" />
        <path d={path([[370,225],[430,275],[560,410],[580,480],[480,340]], false)} fill="#ff1500" filter="url(#blurThin)" />
        <path d={path([[900,88],[1115,88],[1172,160],[1172,470],[1090,400],[960,210]], false)} fill="#ff1500" filter="url(#blurThin)" />
        <path d="M272,240Q270,185 310,185Q370,200 470,340L620,560L800,810L980,1045H840L620,760L400,470L300,330Z" fill="#fff" />
        <path d="M1115,88H1172V160Z" fill="#fff" />
      </g>
      <Frame x={55} y={68} w={1138} h={995} />
    </g>
  );
}

function CloudC2() {
  const c = 'cc2';
  return (
    <g transform="translate(2890,3460) scale(0.3333)">
      <clipPath id={c}><rect x={95} y={85} width={1098} height={965} /></clipPath>
      <rect x={72} y={70} width={1138} height={995} fill="#fff" />
      <g clipPath={`url(#${c})`}>
        <rect x={95} y={85} width={1098} height={965} fill="#0000f0" />
        <g filter="url(#blurHeat)">
          <path d={path([[340,290],[420,500],[560,720],[760,1060],[1110,1060],[600,580]], false)} fill="#10e0ff" />
          <path d={path([[370,320],[470,500],[620,720],[830,1060],[1110,1060],[600,580]], false)} fill="#00ee60" />
          <path d={path([[400,350],[530,520],[720,760],[900,1060],[1110,1060],[600,580]], false)} fill="#ffee00" />
          <path d={path([[450,400],[620,580],[800,780],[980,1060],[1110,1060],[600,580]], false)} fill="#ff2000" />
          <path d={path([[400,165],[530,240],[640,330],[660,400],[620,400],[500,270]], false)} fill="#10d8ff" />
          <path d={path([[400,170],[520,260],[600,340],[600,375],[500,270]], false)} fill="#ee6000" />
          <path d={path([[830,85],[1193,85],[1193,395],[1080,340],[950,200]], false)} fill="#10e0ff" />
          <path d={path([[900,85],[1193,85],[1193,365],[1090,280],[990,170]], false)} fill="#00ee60" />
          <path d={path([[950,85],[1193,85],[1193,330],[1100,240],[1030,160]], false)} fill="#ffee00" />
          <path d={path([[1040,85],[1193,85],[1193,290],[1120,215]], false)} fill="#ff2000" />
        </g>
        <path d="M290,180Q290,135 330,135Q400,150 500,260L640,410L800,600L1000,800L1193,1000V1050H1110L900,850L600,580L350,290Z" fill="#fff" />
      </g>
      <Frame x={72} y={70} w={1138} h={995} />
    </g>
  );
}

// the photographed page stops at 4096px, so the 4401 units of the figure are fitted into that height
const PAGE_W = 3780;
const PAGE_H = 4096;

export default function App() {
  const svgRef = useRef<SVGSVGElement>(null);

  useEffect(() => {
    if (!svgRef.current) return;
    const svg = d3.select(svgRef.current);
    const layer = svg.select<SVGGElement>('#charts');
    layer.selectAll('*').remove();
    panels.forEach((p) => drawPanel(layer as any, p));
  }, []);

  const captionY = [1413, 2897, 4380];
  return (
    <div style={{ width: PAGE_W, height: PAGE_H, margin: '-8px 0 0 -8px', overflow: 'hidden', background: '#fff' }}>
      <svg ref={svgRef} width={PAGE_W} height={PAGE_H} viewBox="0 0 3780 4401" preserveAspectRatio="none" style={{ display: 'block' }}>
        <defs>
          <filter id="blurHeat" x="-20%" y="-20%" width="140%" height="140%"><feGaussianBlur stdDeviation="9" /></filter>
          <filter id="blurThin" x="-20%" y="-20%" width="140%" height="140%"><feGaussianBlur stdDeviation="4" /></filter>
          <linearGradient id="tealA" x1="0" y1="0" x2="0" y2="1"><stop offset="0.3" stopColor="#12b3b3" /><stop offset="0.95" stopColor="#00ffff" /></linearGradient>
          <linearGradient id="blueA" x1="0" y1="0" x2="0" y2="1"><stop offset="0.2" stopColor="#0a6aa8" /><stop offset="1" stopColor="#10c8f0" /></linearGradient>
          <linearGradient id="greenA" x1="0" y1="0" x2="0" y2="1"><stop offset="0.2" stopColor="#08c490" /><stop offset="0.6" stopColor="#00f8b8" /></linearGradient>
          <linearGradient id="greenB" x1="0" y1="0" x2="0" y2="1"><stop offset="0.1" stopColor="#00e6a8" /><stop offset="0.75" stopColor="#30ffe0" /></linearGradient>
          <linearGradient id="blueB" x1="0" y1="0" x2="0" y2="1"><stop offset="0.2" stopColor="#0880c8" /><stop offset="0.9" stopColor="#30b8f8" /></linearGradient>
        </defs>
        <g id="charts" />
        <g fill="none" stroke="#000" strokeWidth={4}>
          <circle cx={598.6} cy={365} r={73} />
          <line x1={672} y1={370} x2={1391} y2={668} />
          <circle cx={2325.5} cy={423} r={73} />
          <line x1={2399} y1={431} x2={3125} y2={668} />
          <rect x={530} y={2543} width={1056} height={49} />
          <rect x={2265} y={2555} width={715} height={36} />
          <line x1={2980} y1={2555} x2={3132} y2={2493} />
          <rect x={549} y={3992} width={312} height={69} />
          <line x1={861} y1={3992} x2={1181} y2={3814} />
          <rect x={2285} y={3992} width={312} height={69} />
          <line x1={2597} y1={3992} x2={2915} y2={3814} />
        </g>
        <ContourA1 />
        <ContourA2 />
        <CloudB1 />
        <CloudB2 />
        <CloudC1 />
        <CloudC2 />
        {rowCaptions.map((cap, i) => (
          <text key={cap} x={1876} y={captionY[i]} textAnchor="middle" fontFamily={SERIF} fontSize={62}>
            {cap}<tspan fontStyle="italic">σ</tspan>{rowSigmas[i]}
          </text>
        ))}
      </svg>
    </div>
  );
}
